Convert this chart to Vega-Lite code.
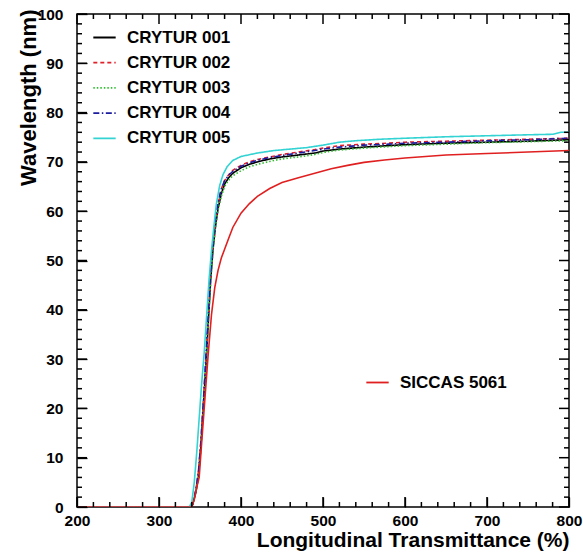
{
  "$schema": "https://vega.github.io/schema/vega-lite/v6.json",
  "autosize": "none",
  "width": 492,
  "height": 493,
  "padding": {"left": 77, "top": 14, "right": 14, "bottom": 46},
  "background": "white",
  "config": {
    "view": {"stroke": "black", "strokeWidth": 1.5},
    "font": "Liberation Sans",
    "axis": {"grid": false, "domain": false, "ticks": true, "tickOpacity": 1, "zindex": 1, "tickColor": "black", "tickWidth": 1.3, "labelColor": "black", "titleColor": "black", "labelFont": "Liberation Sans", "labelFontWeight": "bold", "labelFontSize": 15.5, "titleFont": "Liberation Sans", "titleFontWeight": "bold", "labelOverlap": false, "labelFlush": false},
    "legend": {"labelFont": "Liberation Sans", "labelFontWeight": "bold", "labelFontSize": 17, "labelColor": "black", "symbolType": "stroke", "symbolStrokeWidth": 1.8, "symbolSize": 500, "rowPadding": 4.2, "padding": 0, "labelOffset": 10, "title": null}
  },
  "datasets": {
    "xmaj": [{"v": 200}, {"v": 300}, {"v": 400}, {"v": 500}, {"v": 600}, {"v": 700}, {"v": 800}],
    "xmin": [{"v": 220}, {"v": 240}, {"v": 260}, {"v": 280}, {"v": 320}, {"v": 340}, {"v": 360}, {"v": 380}, {"v": 420}, {"v": 440}, {"v": 460}, {"v": 480}, {"v": 520}, {"v": 540}, {"v": 560}, {"v": 580}, {"v": 620}, {"v": 640}, {"v": 660}, {"v": 680}, {"v": 720}, {"v": 740}, {"v": 760}, {"v": 780}],
    "ymaj": [{"v": 0}, {"v": 10}, {"v": 20}, {"v": 30}, {"v": 40}, {"v": 50}, {"v": 60}, {"v": 70}, {"v": 80}, {"v": 90}, {"v": 100}],
    "ymin": [{"v": 2}, {"v": 4}, {"v": 6}, {"v": 8}, {"v": 12}, {"v": 14}, {"v": 16}, {"v": 18}, {"v": 22}, {"v": 24}, {"v": 26}, {"v": 28}, {"v": 32}, {"v": 34}, {"v": 36}, {"v": 38}, {"v": 42}, {"v": 44}, {"v": 46}, {"v": 48}, {"v": 52}, {"v": 54}, {"v": 56}, {"v": 58}, {"v": 62}, {"v": 64}, {"v": 66}, {"v": 68}, {"v": 72}, {"v": 74}, {"v": 76}, {"v": 78}, {"v": 82}, {"v": 84}, {"v": 86}, {"v": 88}, {"v": 92}, {"v": 94}, {"v": 96}, {"v": 98}],
    "crytur": [
      {"series": "CRYTUR 001", "x": 200, "y": 0}, {"series": "CRYTUR 001", "x": 300, "y": 0}, {"series": "CRYTUR 001", "x": 338, "y": 0}, {"series": "CRYTUR 001", "x": 341, "y": 0.5}, {"series": "CRYTUR 001", "x": 345, "y": 3}, {"series": "CRYTUR 001", "x": 348, "y": 6}, {"series": "CRYTUR 001", "x": 351, "y": 12}, {"series": "CRYTUR 001", "x": 354, "y": 20}, {"series": "CRYTUR 001", "x": 357, "y": 28}, {"series": "CRYTUR 001", "x": 360, "y": 37}, {"series": "CRYTUR 001", "x": 363, "y": 46}, {"series": "CRYTUR 001", "x": 366, "y": 52.5}, {"series": "CRYTUR 001", "x": 369, "y": 57}, {"series": "CRYTUR 001", "x": 372, "y": 60.5}, {"series": "CRYTUR 001", "x": 376, "y": 63.5}, {"series": "CRYTUR 001", "x": 380, "y": 65.5}, {"series": "CRYTUR 001", "x": 385, "y": 66.8}, {"series": "CRYTUR 001", "x": 390, "y": 67.7}, {"series": "CRYTUR 001", "x": 400, "y": 68.8}, {"series": "CRYTUR 001", "x": 410, "y": 69.5}, {"series": "CRYTUR 001", "x": 420, "y": 70}, {"series": "CRYTUR 001", "x": 435, "y": 70.6}, {"series": "CRYTUR 001", "x": 450, "y": 71}, {"series": "CRYTUR 001", "x": 470, "y": 71.4}, {"series": "CRYTUR 001", "x": 490, "y": 71.8}, {"series": "CRYTUR 001", "x": 500, "y": 72.2}, {"series": "CRYTUR 001", "x": 520, "y": 72.6}, {"series": "CRYTUR 001", "x": 550, "y": 73}, {"series": "CRYTUR 001", "x": 580, "y": 73.3}, {"series": "CRYTUR 001", "x": 600, "y": 73.5}, {"series": "CRYTUR 001", "x": 650, "y": 73.8}, {"series": "CRYTUR 001", "x": 700, "y": 74}, {"series": "CRYTUR 001", "x": 750, "y": 74.2}, {"series": "CRYTUR 001", "x": 800, "y": 74.5},
      {"series": "CRYTUR 002", "x": 200, "y": 0}, {"series": "CRYTUR 002", "x": 300, "y": 0}, {"series": "CRYTUR 002", "x": 338, "y": 0}, {"series": "CRYTUR 002", "x": 341, "y": 0.5}, {"series": "CRYTUR 002", "x": 345, "y": 3.5}, {"series": "CRYTUR 002", "x": 348, "y": 7}, {"series": "CRYTUR 002", "x": 351, "y": 13}, {"series": "CRYTUR 002", "x": 354, "y": 21}, {"series": "CRYTUR 002", "x": 357, "y": 29}, {"series": "CRYTUR 002", "x": 360, "y": 38}, {"series": "CRYTUR 002", "x": 363, "y": 47}, {"series": "CRYTUR 002", "x": 366, "y": 53.5}, {"series": "CRYTUR 002", "x": 369, "y": 58}, {"series": "CRYTUR 002", "x": 372, "y": 61.5}, {"series": "CRYTUR 002", "x": 376, "y": 64.5}, {"series": "CRYTUR 002", "x": 380, "y": 66.2}, {"series": "CRYTUR 002", "x": 385, "y": 67.4}, {"series": "CRYTUR 002", "x": 390, "y": 68.3}, {"series": "CRYTUR 002", "x": 400, "y": 69.3}, {"series": "CRYTUR 002", "x": 410, "y": 70}, {"series": "CRYTUR 002", "x": 420, "y": 70.5}, {"series": "CRYTUR 002", "x": 435, "y": 71}, {"series": "CRYTUR 002", "x": 450, "y": 71.5}, {"series": "CRYTUR 002", "x": 470, "y": 72}, {"series": "CRYTUR 002", "x": 490, "y": 72.5}, {"series": "CRYTUR 002", "x": 500, "y": 72.8}, {"series": "CRYTUR 002", "x": 520, "y": 73.3}, {"series": "CRYTUR 002", "x": 550, "y": 73.6}, {"series": "CRYTUR 002", "x": 580, "y": 73.8}, {"series": "CRYTUR 002", "x": 600, "y": 74}, {"series": "CRYTUR 002", "x": 650, "y": 74.2}, {"series": "CRYTUR 002", "x": 700, "y": 74.4}, {"series": "CRYTUR 002", "x": 750, "y": 74.6}, {"series": "CRYTUR 002", "x": 800, "y": 74.8},
      {"series": "CRYTUR 003", "x": 200, "y": 0}, {"series": "CRYTUR 003", "x": 300, "y": 0}, {"series": "CRYTUR 003", "x": 338, "y": 0}, {"series": "CRYTUR 003", "x": 341, "y": 0.5}, {"series": "CRYTUR 003", "x": 345, "y": 3}, {"series": "CRYTUR 003", "x": 348, "y": 6}, {"series": "CRYTUR 003", "x": 351, "y": 12}, {"series": "CRYTUR 003", "x": 354, "y": 20}, {"series": "CRYTUR 003", "x": 357, "y": 28}, {"series": "CRYTUR 003", "x": 360, "y": 37}, {"series": "CRYTUR 003", "x": 363, "y": 46}, {"series": "CRYTUR 003", "x": 366, "y": 52.5}, {"series": "CRYTUR 003", "x": 369, "y": 57}, {"series": "CRYTUR 003", "x": 372, "y": 60.3}, {"series": "CRYTUR 003", "x": 376, "y": 63}, {"series": "CRYTUR 003", "x": 380, "y": 65}, {"series": "CRYTUR 003", "x": 385, "y": 66.3}, {"series": "CRYTUR 003", "x": 390, "y": 67.2}, {"series": "CRYTUR 003", "x": 400, "y": 68.2}, {"series": "CRYTUR 003", "x": 410, "y": 69}, {"series": "CRYTUR 003", "x": 420, "y": 69.5}, {"series": "CRYTUR 003", "x": 435, "y": 70.1}, {"series": "CRYTUR 003", "x": 450, "y": 70.6}, {"series": "CRYTUR 003", "x": 470, "y": 71}, {"series": "CRYTUR 003", "x": 490, "y": 71.5}, {"series": "CRYTUR 003", "x": 500, "y": 71.9}, {"series": "CRYTUR 003", "x": 520, "y": 72.4}, {"series": "CRYTUR 003", "x": 550, "y": 72.8}, {"series": "CRYTUR 003", "x": 580, "y": 73.1}, {"series": "CRYTUR 003", "x": 600, "y": 73.3}, {"series": "CRYTUR 003", "x": 650, "y": 73.6}, {"series": "CRYTUR 003", "x": 700, "y": 73.9}, {"series": "CRYTUR 003", "x": 750, "y": 74.1}, {"series": "CRYTUR 003", "x": 800, "y": 74.3},
      {"series": "CRYTUR 004", "x": 200, "y": 0}, {"series": "CRYTUR 004", "x": 300, "y": 0}, {"series": "CRYTUR 004", "x": 338, "y": 0}, {"series": "CRYTUR 004", "x": 341, "y": 0.5}, {"series": "CRYTUR 004", "x": 345, "y": 3.5}, {"series": "CRYTUR 004", "x": 348, "y": 7}, {"series": "CRYTUR 004", "x": 351, "y": 13}, {"series": "CRYTUR 004", "x": 354, "y": 21}, {"series": "CRYTUR 004", "x": 357, "y": 30}, {"series": "CRYTUR 004", "x": 360, "y": 39}, {"series": "CRYTUR 004", "x": 363, "y": 47.5}, {"series": "CRYTUR 004", "x": 366, "y": 54}, {"series": "CRYTUR 004", "x": 369, "y": 58.5}, {"series": "CRYTUR 004", "x": 372, "y": 61.8}, {"series": "CRYTUR 004", "x": 376, "y": 64.5}, {"series": "CRYTUR 004", "x": 380, "y": 66.2}, {"series": "CRYTUR 004", "x": 385, "y": 67.3}, {"series": "CRYTUR 004", "x": 390, "y": 68.1}, {"series": "CRYTUR 004", "x": 400, "y": 69.1}, {"series": "CRYTUR 004", "x": 410, "y": 69.8}, {"series": "CRYTUR 004", "x": 420, "y": 70.3}, {"series": "CRYTUR 004", "x": 435, "y": 70.9}, {"series": "CRYTUR 004", "x": 450, "y": 71.3}, {"series": "CRYTUR 004", "x": 470, "y": 71.8}, {"series": "CRYTUR 004", "x": 490, "y": 72.3}, {"series": "CRYTUR 004", "x": 500, "y": 72.6}, {"series": "CRYTUR 004", "x": 520, "y": 73}, {"series": "CRYTUR 004", "x": 550, "y": 73.4}, {"series": "CRYTUR 004", "x": 580, "y": 73.6}, {"series": "CRYTUR 004", "x": 600, "y": 73.8}, {"series": "CRYTUR 004", "x": 650, "y": 74}, {"series": "CRYTUR 004", "x": 700, "y": 74.3}, {"series": "CRYTUR 004", "x": 750, "y": 74.5}, {"series": "CRYTUR 004", "x": 800, "y": 74.8},
      {"series": "CRYTUR 005", "x": 200, "y": 0}, {"series": "CRYTUR 005", "x": 300, "y": 0}, {"series": "CRYTUR 005", "x": 337, "y": 0}, {"series": "CRYTUR 005", "x": 340, "y": 1}, {"series": "CRYTUR 005", "x": 343, "y": 5}, {"series": "CRYTUR 005", "x": 346, "y": 11}, {"series": "CRYTUR 005", "x": 349, "y": 18}, {"series": "CRYTUR 005", "x": 352, "y": 25}, {"series": "CRYTUR 005", "x": 355, "y": 31}, {"series": "CRYTUR 005", "x": 358, "y": 38.5}, {"series": "CRYTUR 005", "x": 361, "y": 46}, {"series": "CRYTUR 005", "x": 364, "y": 52}, {"series": "CRYTUR 005", "x": 367, "y": 57}, {"series": "CRYTUR 005", "x": 370, "y": 61.5}, {"series": "CRYTUR 005", "x": 374, "y": 65.2}, {"series": "CRYTUR 005", "x": 378, "y": 67.4}, {"series": "CRYTUR 005", "x": 383, "y": 69}, {"series": "CRYTUR 005", "x": 390, "y": 70.3}, {"series": "CRYTUR 005", "x": 400, "y": 71.1}, {"series": "CRYTUR 005", "x": 420, "y": 71.8}, {"series": "CRYTUR 005", "x": 440, "y": 72.3}, {"series": "CRYTUR 005", "x": 460, "y": 72.6}, {"series": "CRYTUR 005", "x": 480, "y": 72.9}, {"series": "CRYTUR 005", "x": 500, "y": 73.4}, {"series": "CRYTUR 005", "x": 520, "y": 74}, {"series": "CRYTUR 005", "x": 540, "y": 74.3}, {"series": "CRYTUR 005", "x": 570, "y": 74.6}, {"series": "CRYTUR 005", "x": 600, "y": 74.8}, {"series": "CRYTUR 005", "x": 650, "y": 75.1}, {"series": "CRYTUR 005", "x": 700, "y": 75.3}, {"series": "CRYTUR 005", "x": 750, "y": 75.5}, {"series": "CRYTUR 005", "x": 780, "y": 75.6}, {"series": "CRYTUR 005", "x": 790, "y": 76}, {"series": "CRYTUR 005", "x": 800, "y": 76}
    ],
    "siccas": [
      {"series": "SICCAS 5061", "x": 200, "y": 0}, {"series": "SICCAS 5061", "x": 300, "y": 0}, {"series": "SICCAS 5061", "x": 340, "y": 0}, {"series": "SICCAS 5061", "x": 343, "y": 1.5}, {"series": "SICCAS 5061", "x": 346, "y": 4}, {"series": "SICCAS 5061", "x": 349, "y": 6}, {"series": "SICCAS 5061", "x": 352, "y": 13}, {"series": "SICCAS 5061", "x": 356, "y": 22}, {"series": "SICCAS 5061", "x": 360, "y": 31}, {"series": "SICCAS 5061", "x": 364, "y": 39}, {"series": "SICCAS 5061", "x": 368, "y": 44.5}, {"series": "SICCAS 5061", "x": 372, "y": 48}, {"series": "SICCAS 5061", "x": 376, "y": 50.5}, {"series": "SICCAS 5061", "x": 380, "y": 52.3}, {"series": "SICCAS 5061", "x": 385, "y": 54.5}, {"series": "SICCAS 5061", "x": 390, "y": 56.7}, {"series": "SICCAS 5061", "x": 400, "y": 59.6}, {"series": "SICCAS 5061", "x": 410, "y": 61.5}, {"series": "SICCAS 5061", "x": 420, "y": 63}, {"series": "SICCAS 5061", "x": 435, "y": 64.6}, {"series": "SICCAS 5061", "x": 450, "y": 65.8}, {"series": "SICCAS 5061", "x": 470, "y": 66.8}, {"series": "SICCAS 5061", "x": 490, "y": 67.7}, {"series": "SICCAS 5061", "x": 510, "y": 68.6}, {"series": "SICCAS 5061", "x": 530, "y": 69.3}, {"series": "SICCAS 5061", "x": 550, "y": 69.9}, {"series": "SICCAS 5061", "x": 575, "y": 70.4}, {"series": "SICCAS 5061", "x": 600, "y": 70.8}, {"series": "SICCAS 5061", "x": 625, "y": 71.1}, {"series": "SICCAS 5061", "x": 650, "y": 71.4}, {"series": "SICCAS 5061", "x": 700, "y": 71.7}, {"series": "SICCAS 5061", "x": 750, "y": 72}, {"series": "SICCAS 5061", "x": 800, "y": 72.3}
    ]
  },
  "resolve": {
    "scale": {"color": "independent", "strokeDash": "independent"},
    "axis": {"x": "independent", "y": "independent"}
  },
  "layer": [
    {
      "data": {"name": "crytur"},
      "mark": {"type": "line", "strokeWidth": 1.6, "clip": true},
      "encoding": {
        "x": {
          "field": "x", "type": "quantitative",
          "scale": {"domain": [200, 800], "nice": false, "zero": false},
          "axis": {
            "orient": "bottom",
            "title": "Longitudinal Transmittance (%)",
            "titleFontSize": 21, "titleAnchor": "end", "titleAlign": "right", "titleBaseline": "alphabetic", "titleY": 49, "titleX": 492,
            "values": [200, 300, 400, 500, 600, 700, 800],
            "offset": -10, "tickSize": 10,
            "labelPadding": 6
          }
        },
        "y": {
          "field": "y", "type": "quantitative",
          "scale": {"domain": [0, 100], "nice": false},
          "axis": {
            "orient": "left",
            "title": "Wavelength (nm)",
            "titleFontSize": 22, "titleAngle": -90, "titleAlign": "right", "titleBaseline": "alphabetic", "titleX": -52, "titleY": -5, "titleAnchor": "end",
            "values": [0, 10, 20, 30, 40, 50, 60, 70, 80, 90, 100],
            "offset": -10, "tickSize": 10,
            "labelPadding": 14
          }
        },
        "color": {
          "field": "series", "type": "nominal",
          "scale": {"domain": ["CRYTUR 001", "CRYTUR 002", "CRYTUR 003", "CRYTUR 004", "CRYTUR 005"], "range": ["#000000", "#e0202a", "#2fbf2f", "#1c1ca0", "#33d3d3"]},
          "legend": {"orient": "none", "legendX": 15, "legendY": 11}
        },
        "strokeDash": {
          "field": "series", "type": "nominal",
          "scale": {"domain": ["CRYTUR 001", "CRYTUR 002", "CRYTUR 003", "CRYTUR 004", "CRYTUR 005"], "range": [[1, 0], [4, 3], [1.5, 2], [6, 2.5, 1.5, 2.5], [1, 0]]},
          "legend": {"orient": "none", "legendX": 15, "legendY": 11}
        }
      }
    },
    {
      "data": {"name": "siccas"},
      "mark": {"type": "line", "strokeWidth": 1.6, "clip": true},
      "encoding": {
        "x": {"field": "x", "type": "quantitative", "axis": null},
        "y": {"field": "y", "type": "quantitative", "axis": null},
        "color": {
          "field": "series", "type": "nominal",
          "scale": {"domain": ["SICCAS 5061"], "range": ["#e02020"]},
          "legend": {"orient": "none", "legendX": 288, "legendY": 356}
        }
      }
    },
    {
      "data": {"name": "xmaj"},
      "mark": {"type": "tick", "orient": "vertical", "size": 10, "thickness": 1.5, "color": "black", "opacity": 1, "yOffset": -5},
      "encoding": {"x": {"field": "v", "type": "quantitative", "axis": null}, "y": {"datum": 0, "type": "quantitative", "axis": null}}
    },
    {
      "data": {"name": "xmaj"},
      "mark": {"type": "tick", "orient": "vertical", "size": 10, "thickness": 1.5, "color": "black", "opacity": 1, "yOffset": 5},
      "encoding": {"x": {"field": "v", "type": "quantitative", "axis": null}, "y": {"datum": 100, "type": "quantitative", "axis": null}}
    },
    {
      "data": {"name": "xmin"},
      "mark": {"type": "tick", "orient": "vertical", "size": 5, "thickness": 1.5, "color": "black", "opacity": 1, "yOffset": -2.5},
      "encoding": {"x": {"field": "v", "type": "quantitative", "axis": null}, "y": {"datum": 0, "type": "quantitative", "axis": null}}
    },
    {
      "data": {"name": "xmin"},
      "mark": {"type": "tick", "orient": "vertical", "size": 5, "thickness": 1.5, "color": "black", "opacity": 1, "yOffset": 2.5},
      "encoding": {"x": {"field": "v", "type": "quantitative", "axis": null}, "y": {"datum": 100, "type": "quantitative", "axis": null}}
    },
    {
      "data": {"name": "ymaj"},
      "mark": {"type": "tick", "orient": "horizontal", "size": 10, "thickness": 1.5, "color": "black", "opacity": 1, "xOffset": 5},
      "encoding": {"y": {"field": "v", "type": "quantitative", "axis": null}, "x": {"datum": 200, "type": "quantitative", "axis": null}}
    },
    {
      "data": {"name": "ymaj"},
      "mark": {"type": "tick", "orient": "horizontal", "size": 10, "thickness": 1.5, "color": "black", "opacity": 1, "xOffset": -5},
      "encoding": {"y": {"field": "v", "type": "quantitative", "axis": null}, "x": {"datum": 800, "type": "quantitative", "axis": null}}
    },
    {
      "data": {"name": "ymin"},
      "mark": {"type": "tick", "orient": "horizontal", "size": 5, "thickness": 1.5, "color": "black", "opacity": 1, "xOffset": 2.5},
      "encoding": {"y": {"field": "v", "type": "quantitative", "axis": null}, "x": {"datum": 200, "type": "quantitative", "axis": null}}
    },
    {
      "data": {"name": "ymin"},
      "mark": {"type": "tick", "orient": "horizontal", "size": 5, "thickness": 1.5, "color": "black", "opacity": 1, "xOffset": -2.5},
      "encoding": {"y": {"field": "v", "type": "quantitative", "axis": null}, "x": {"datum": 800, "type": "quantitative", "axis": null}}
    }
  ]
}
